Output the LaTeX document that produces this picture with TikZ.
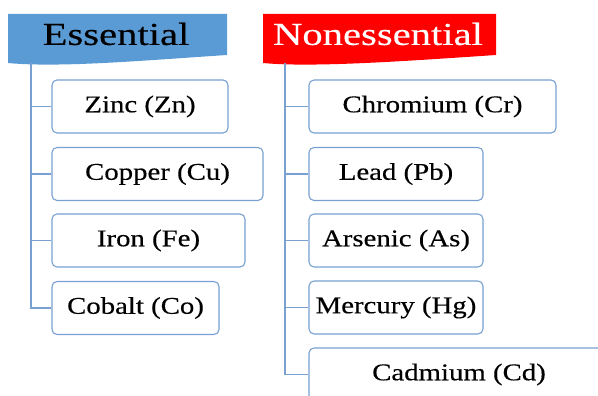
\documentclass[tikz,border=0pt]{standalone}
\usepackage{fontspec}
\setmainfont{Liberation Serif}[FakeStretch=1.2,FakeBold=0.35]
\newfontfamily\headfont{Liberation Serif}[FakeStretch=1.27,FakeBold=0.3]
\usepackage{tikz}
\definecolor{essblue}{RGB}{91,155,213}
\definecolor{linkblue}{RGB}{120,160,208}

\begin{document}
\begin{tikzpicture}[x=1pt,y=-1pt]
\tikzstyle{metal}=[rectangle, rounded corners=5pt, draw=linkblue, line width=1.1pt, minimum height=53pt, inner sep=0pt, font=\fontsize{24}{28}\selectfont]
\tikzstyle{head}=[inner sep=0pt, font=\headfont\fontsize{32}{36}\selectfont]
\tikzstyle{link}=[draw=linkblue, line width=1.4pt]

\useasboundingbox (0,0) rectangle (598,396);
\clip (0,0) rectangle (598,396);

\fill[essblue] (8,14) -- (227,14) -- (227,55) .. controls (150,60) and (60,68) .. (8,63) -- cycle;
\fill[red] (263,14) -- (496,14) -- (496,55) .. controls (420,60) and (315,68) .. (263,63) -- cycle;

\node (ess) at (116,34) [head] {Essential};
\node (noness) at (378,34) [head, text=white] {Nonessential};

\coordinate (et) at (31,63);
\coordinate (nt) at (285,63);

\node (zn) at (140,106.5) [metal, minimum width=176pt] {Zinc (Zn)};
\node (cu) at (157.5,174) [metal, minimum width=211pt] {Copper (Cu)};
\node (fe) at (148.5,240.5) [metal, minimum width=193pt] {Iron (Fe)};
\node (co) at (135.5,308) [metal, minimum width=167pt] {Cobalt (Co)};

\node (cr) at (432.5,106.5) [metal, minimum width=247pt] {Chromium (Cr)};
\node (pb) at (396,174) [metal, minimum width=174pt] {Lead\ (Pb)};
\node (as) at (396,240.5) [metal, minimum width=174pt] {Arsenic\ (As)};
\node (hg) at (396,307.5) [metal, minimum width=174pt] {Mercury\ (Hg)};
\node (cd) at (459,374.5) [metal, minimum width=300pt] {Cadmium (Cd)};

\draw[link] (et) |- (zn.west);
\draw[link] (et) |- (cu.west);
\draw[link] (et) |- (fe.west);
\draw[link] (et) |- (co.west);

\draw[link] (nt) |- (cr.west);
\draw[link] (nt) |- (pb.west);
\draw[link] (nt) |- (as.west);
\draw[link] (nt) |- (hg.west);
\draw[link] (nt) |- (cd.west);
\end{tikzpicture}
\end{document}
